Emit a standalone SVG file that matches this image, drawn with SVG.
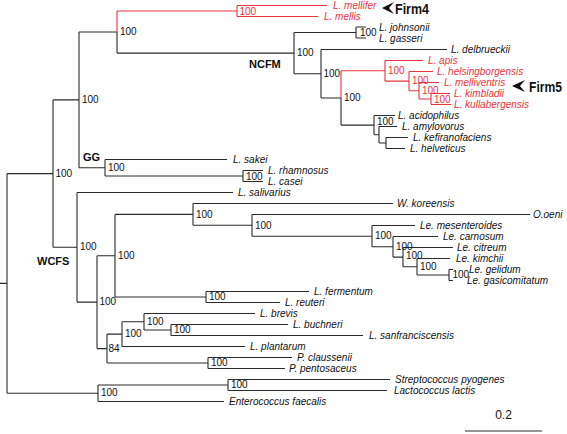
<svg xmlns="http://www.w3.org/2000/svg" width="567" height="434" viewBox="0 0 567 434">
<style>
.k{fill:none;stroke:#2a2a2a;stroke-width:1.1}
.r{fill:none;stroke:#e8343c;stroke-width:1.1}
text{font-family:"Liberation Sans",Arial,Helvetica,sans-serif;fill:#111}
.t{font-size:10px;font-style:italic}
.red{fill:#e8343c}
.s{font-size:10px}
.b{font-size:11px;font-weight:bold}
.f{font-size:14px;font-weight:bold}
</style>
<rect width="567" height="434" fill="#fff"/>
<g id="connectors">
<path class="k" d="M0 283.4H7M7 173.6V393.25M7 173.6H53M53 99.9V247.3M53 99.9H79M79 32V167.75M79 32H117M117 32V53.1M117 53.1H294M294 32.5V73.7M294 32.5H356M356 27V38M356 27H366M356 38H366M294 73.7H321M321 49.5V98M321 49.5H447M321 98H341M341 98V125.1M341 125.1H374M374 115.5V134.75M374 115.5H395M374 134.75H379M379 126.5V143M379 126.5H397M379 143H386M386 137.5V148.5M386 137.5H408M386 148.5H405M79 167.75H105M105 159.5V176M105 159.5H227M105 176H243M243 170.5V181.5M243 170.5H263M243 181.5H263M53 247.3H77M77 192.5V302.1M77 192.5H233M77 302.1H97M97 255.7V348.6M97 255.7H115M115 214.4V297M115 214.4H193M193 203.5V225.3M193 203.5H393M193 225.3H252M252 214.5V236.2M252 214.5H530M252 236.2H372M372 225.5V246.8M372 225.5H415M372 246.8H393M393 236.5V257.1M393 236.5H438M393 257.1H403M403 247.5V266.75M403 247.5H453M403 266.75H417M417 258.5V275M417 258.5H450M417 275H449M449 269.5V280.5M449 269.5H453M449 280.5H453M115 297H206M206 291.5V302.5M206 291.5H309M206 302.5H280M97 348.6H107M107 334.1V363M107 334.1H122M122 321.75V346.5M122 321.75H144M144 313.5V330M144 313.5H255M144 330H171M171 324.5V335.5M171 324.5H288M171 335.5H363M122 346.5H245M107 363H208M208 357.5V368.5M208 357.5H292M208 368.5H285M7 393.25H98M98 385V401.5M98 385H228M98 401.5H224M228 379.5V390.5M228 379.5H390M228 390.5H387"/>
<path class="r" d="M117 11V32M117 11H237M237 5.5V16.5M237 5.5H327M237 16.5H318M341 70.8V98M341 70.8H385M385 60.5V81.1M385 60.5H423M385 81.1H409M409 71.5V90.75M409 71.5H433M409 90.75H419M419 82.5V99M419 82.5H439M419 99H431M431 93.5V104.5M431 93.5H450M431 104.5H451"/>
<path class="k" d="M465 431H542"/>
</g>
<g id="leaves">
<g id="n-mellifer"><text class="t red" x="333" y="9">L. mellifer</text></g>
<g id="n-mellis"><text class="t red" x="324" y="20">L. mellis</text></g>
<g id="n-johnsonii"><text class="t" x="379" y="30.5">L. johnsonii</text></g>
<g id="n-gasseri"><text class="t" x="379" y="41.5">L. gasseri</text></g>
<g id="n-delbrueckii"><text class="t" x="451" y="53">L. delbrueckii</text></g>
<g id="n-apis"><text class="t red" x="428" y="64">L. apis</text></g>
<g id="n-helsingborgensis"><text class="t red" x="437" y="75">L. helsingborgensis</text></g>
<g id="n-melliventris"><text class="t red" x="444" y="86">L. melliventris</text></g>
<g id="n-kimbladii"><text class="t red" x="454" y="97">L. kimbladii</text></g>
<g id="n-kullabergensis"><text class="t red" x="454" y="108">L. kullabergensis</text></g>
<g id="n-acidophilus"><text class="t" x="398" y="119">L. acidophilus</text></g>
<g id="n-amylovorus"><text class="t" x="402" y="130">L. amylovorus</text></g>
<g id="n-kefiranofaciens"><text class="t" x="413" y="141">L. kefiranofaciens</text></g>
<g id="n-helveticus"><text class="t" x="410" y="152">L. helveticus</text></g>
<g id="n-sakei"><text class="t" x="233" y="163">L. sakei</text></g>
<g id="n-rhamnosus"><text class="t" x="268" y="174">L. rhamnosus</text></g>
<g id="n-casei"><text class="t" x="268" y="185">L. casei</text></g>
<g id="n-salivarius"><text class="t" x="238" y="196">L. salivarius</text></g>
<g id="n-koreensis"><text class="t" x="397" y="207">W. koreensis</text></g>
<g id="n-oeni"><text class="t" x="533" y="218">O.oeni</text></g>
<g id="n-mesenteroides"><text class="t" x="420" y="229">Le. mesenteroides</text></g>
<g id="n-carnosum"><text class="t" x="443" y="240">Le. carnosum</text></g>
<g id="n-citreum"><text class="t" x="457" y="251">Le. citreum</text></g>
<g id="n-kimchii"><text class="t" x="456" y="262">Le. kimchii</text></g>
<g id="n-gelidum"><text class="t" x="469" y="273">Le. gelidum</text></g>
<g id="n-gasicomitatum"><text class="t" x="467" y="284">Le. gasicomitatum</text></g>
<g id="n-fermentum"><text class="t" x="314" y="295">L. fermentum</text></g>
<g id="n-reuteri"><text class="t" x="285" y="306">L. reuteri</text></g>
<g id="n-brevis"><text class="t" x="260" y="317">L. brevis</text></g>
<g id="n-buchneri"><text class="t" x="293" y="328">L. buchneri</text></g>
<g id="n-sanfranciscensis"><text class="t" x="369" y="339">L. sanfranciscensis</text></g>
<g id="n-plantarum"><text class="t" x="250" y="350">L. plantarum</text></g>
<g id="n-claussenii"><text class="t" x="297" y="361">P. claussenii</text></g>
<g id="n-pentosaceus"><text class="t" x="289" y="372">P. pentosaceus</text></g>
<g id="n-pyogenes"><text class="t" x="395" y="383">Streptococcus pyogenes</text></g>
<g id="n-lactis"><text class="t" x="394" y="394">Lactococcus lactis</text></g>
<g id="n-faecalis"><text class="t" x="229" y="405">Enterococcus faecalis</text></g>
</g>
<g id="support">
<text class="s red" x="239.5" y="14.5">100</text>
<text class="s" x="120" y="35">100</text>
<text class="s" x="360" y="36">100</text>
<text class="s" x="297" y="56">100</text>
<text class="s" x="323.5" y="77">100</text>
<text class="s" x="344" y="101">100</text>
<text class="s red" x="388" y="74">100</text>
<text class="s red" x="412" y="84">100</text>
<text class="s red" x="422" y="94">100</text>
<text class="s red" x="434" y="102.5">100</text>
<text class="s" x="377" y="124.5">100</text>
<text class="s" x="82" y="103">100</text>
<text class="s" x="108" y="171">100</text>
<text class="s" x="246" y="180">100</text>
<text class="s" x="55.5" y="176.5">100</text>
<text class="s" x="80" y="250">100</text>
<text class="s" x="118" y="258.5">100</text>
<text class="s" x="196" y="217.5">100</text>
<text class="s" x="255" y="228.5">100</text>
<text class="s" x="375" y="239">100</text>
<text class="s" x="396" y="249.5">100</text>
<text class="s" x="406" y="259">100</text>
<text class="s" x="420" y="270">100</text>
<text class="s" x="452.5" y="278">100</text>
<text class="s" x="209" y="300">100</text>
<text class="s" x="99.5" y="305">100</text>
<text class="s" x="108.5" y="351.5">84</text>
<text class="s" x="125" y="337">100</text>
<text class="s" x="147" y="325">100</text>
<text class="s" x="174" y="333">100</text>
<text class="s" x="211" y="366">100</text>
<text class="s" x="231" y="388">100</text>
<text class="s" x="101" y="396">100</text>
</g>
<g id="clade-NCFM"><text class="b" x="249" y="68">NCFM</text></g>
<g id="clade-GG"><text class="b" x="83" y="161">GG</text></g>
<g id="clade-WCFS"><text class="b" x="37" y="265">WCFS</text></g>
<g id="firm4"><polygon points="382,8 394,2 389,8 394,14" fill="#111"/><text class="f" x="395" y="13.5" textLength="34" lengthAdjust="spacingAndGlyphs">Firm4</text></g>
<g id="firm5"><polygon points="512,86 525,80 520,86 525,92" fill="#111"/><text class="f" x="529" y="91.5" textLength="33" lengthAdjust="spacingAndGlyphs">Firm5</text></g>
<g id="scale"><text x="503.5" y="419" font-size="12" text-anchor="middle">0.2</text></g>
</svg>
